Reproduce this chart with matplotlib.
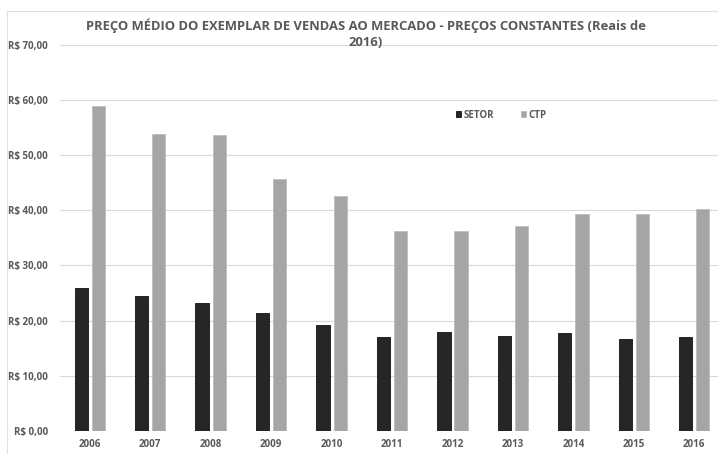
import numpy as np
import matplotlib
matplotlib.use('Agg')
from matplotlib import pyplot as plt
from matplotlib.patches import Rectangle

# Daten
anos = ['2006', '2007', '2008', '2009', '2010', '2011', '2012', '2013', '2014', '2015', '2016']
setor = [25.9, 24.4, 23.2, 21.4, 19.2, 17.0, 18.0, 17.2, 17.7, 16.6, 17.0]
ctp = [58.8, 53.8, 53.6, 45.6, 42.6, 36.3, 36.2, 37.2, 39.4, 39.4, 40.2]
y_ticks = [0, 10, 20, 30, 40, 50, 60, 70]

texto = '#595959'
plt.rcParams['font.family'] = ['Open Sans', 'DejaVu Sans']

fig = plt.figure(figsize=(7.18, 4.54), dpi=100)
ax = fig.add_axes([0.083, 0.0507, 0.926, 0.851])

# Rahmen um das Diagramm
fig.patches.append(Rectangle((7 / 718, -0.05), 1.2, 1 - 11 / 454 + 0.05, transform=fig.transFigure,
                             fill=False, edgecolor='#e0e0e0', linewidth=0.8))

x = np.arange(len(anos))
b = 0.22
ax.bar(x - 0.142, setor, width=b, color='#262626', edgecolor='#111111', linewidth=0.6, label='SETOR', zorder=3)
ax.bar(x + 0.142, ctp, width=b, color='#a5a5a5', edgecolor='#bdbdbd', linewidth=0.6, label='CTP', zorder=3)

ax.set_xlim(-0.5, len(anos) - 0.5)
ax.set_ylim(0, 70)
ax.set_yticks(y_ticks)
ax.set_yticklabels([f'R$ {v:.2f}'.replace('.', ',') for v in y_ticks])
ax.set_xticks(x)
ax.set_xticklabels(anos)
ax.grid(axis='y', color='#d9d9d9', linewidth=0.8, zorder=0)
ax.set_axisbelow(True)
for s in ax.spines.values():
    s.set_visible(False)
ax.tick_params(axis='both', length=0, colors=texto, labelsize=7)
ax.tick_params(axis='y', pad=8.5)
ax.tick_params(axis='x', pad=6)
for lbl in ax.get_xticklabels() + ax.get_yticklabels():
    lbl.set_fontweight('bold')

fig.text(366 / 718, 1 - 34 / 454,
         'PREÇO MÉDIO DO EXEMPLAR DE VENDAS AO MERCADO - PREÇOS CONSTANTES (Reais de\n2016)',
         ha='center', va='center', multialignment='center', fontsize=9.4, fontweight='bold',
         color=texto, linespacing=1.3)

leg = fig.legend(loc='center', bbox_to_anchor=(501 / 718, 1 - 115 / 454), ncol=2, frameon=False,
                 fontsize=7, handlelength=0.5, handleheight=0.5, handletextpad=0.25, columnspacing=2.8)
for t in leg.get_texts():
    t.set_color(texto)
    t.set_fontweight('bold')

fig.savefig('out.png', dpi=100)
